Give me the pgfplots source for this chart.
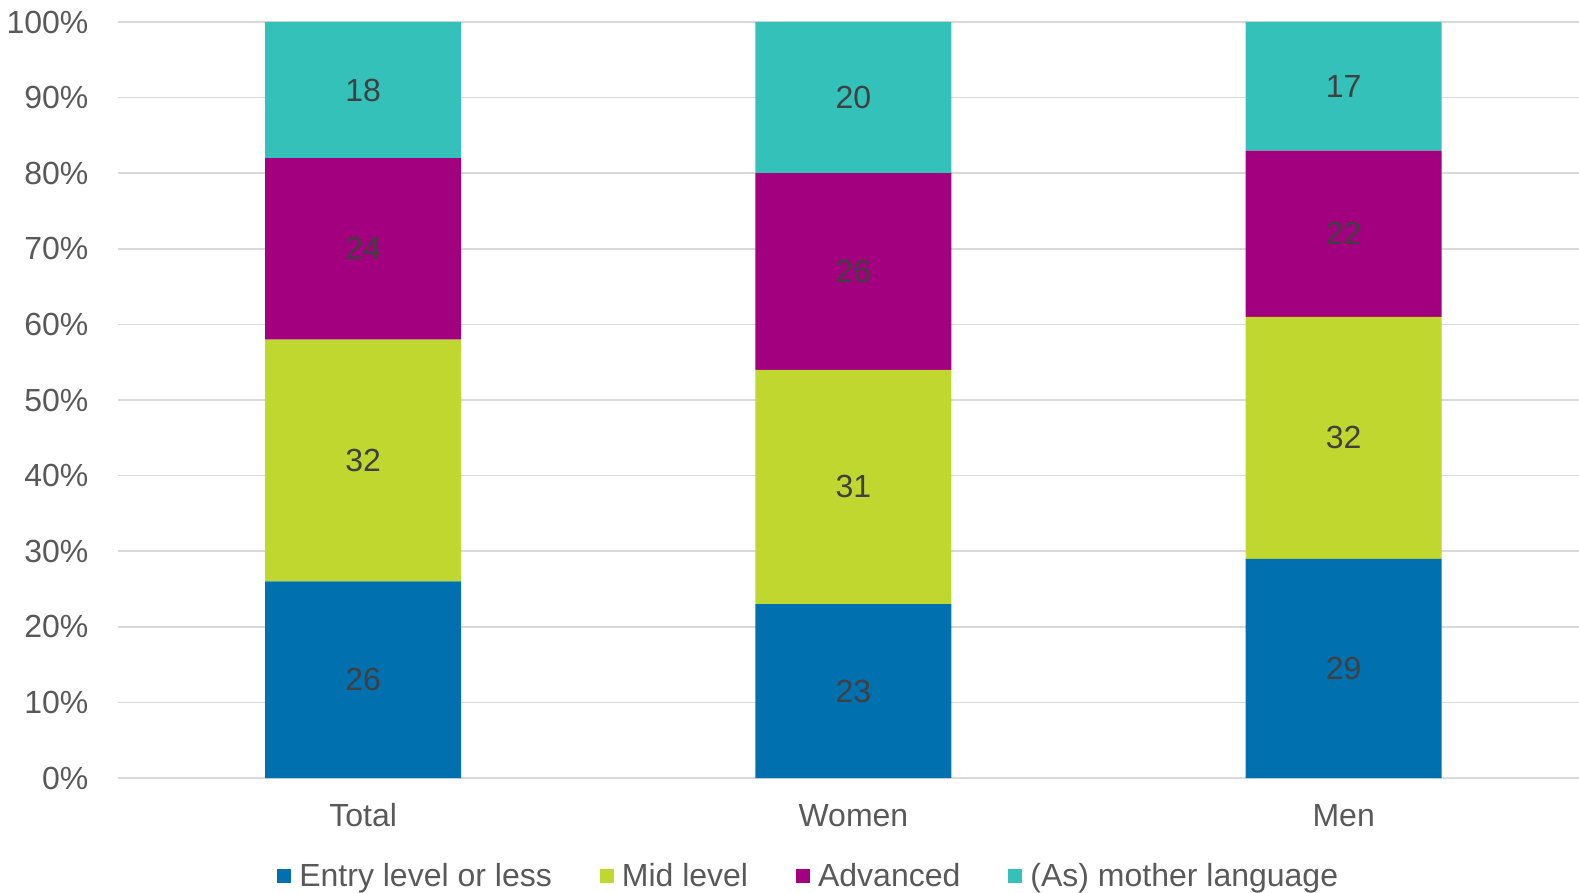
\documentclass[border=0pt]{standalone}
\usepackage{pgfplots}
\pgfplotsset{compat=1.18}
\usepackage{fontspec}
\setmainfont{Liberation Sans}
\definecolor{cBlue}{HTML}{0070AF}
\definecolor{cLime}{HTML}{C0D72F}
\definecolor{cPurple}{HTML}{A2007E}
\definecolor{cTeal}{HTML}{33C1B9}
\definecolor{gridgray}{HTML}{D9D9D9}
\definecolor{ticktext}{HTML}{595959}
\definecolor{labeltext}{HTML}{404040}
\pgfplotsset{
  legsq/.style={legend image code/.code={\fill[##1] (0pt,-5.25pt) rectangle (10.5pt,5.25pt);}},
}
\begin{document}
\begin{tikzpicture}[font=\fontsize{24}{28}\selectfont]
\begin{axis}[
  at={(0,0)}, anchor=south west,
  scale only axis, width=1095.75pt, height=567pt,
  ybar stacked, bar width=147pt,
  xmin=-0.5, xmax=2.48, ymin=0, ymax=100,
  xtick={0,1,2}, xticklabels={Total,Women,Men},
  ytick={0,10,...,100},
  /pgf/number format/assume math mode=true,
  yticklabel={\pgfmathprintnumber{\tick}\%},
  axis lines*=left, axis line style={draw=none},
  major tick length=0pt,
  ymajorgrids, xmajorgrids=false,
  grid style={gridgray, line width=1.3pt},
  yticklabel style={anchor=east, inner sep=0pt, xshift=-22pt, text=ticktext},
  xticklabel style={anchor=base, inner sep=0pt, yshift=-36.4pt, text=ticktext},
  visualization depends on=rawy\as\rawy,
  nodes near coords={\pgfmathprintnumber{\rawy}},
  every node near coord/.append style={anchor=center, text=labeltext},
  legend columns=4,
  legend style={draw=none, fill=none, at={(axis description cs:0.473,-0.1296)}, anchor=center,
    /tikz/every odd column/.append style={column sep=4pt},
    /tikz/every even column/.append style={column sep=34pt}, text=ticktext, inner sep=0pt},
]
\addplot[fill=cBlue, draw=none, legsq] coordinates {(0,26) (1,23) (2,29)};
\addlegendentry{Entry level or less}
\addplot[fill=cLime, draw=none, legsq] coordinates {(0,32) (1,31) (2,32)};
\addlegendentry{Mid level}
\addplot[fill=cPurple, draw=none, legsq] coordinates {(0,24) (1,26) (2,22)};
\addlegendentry{Advanced}
\addplot[fill=cTeal, draw=none, legsq] coordinates {(0,18) (1,20) (2,17)};
\addlegendentry{(As) mother language}
\end{axis}
\pgfresetboundingbox
\useasboundingbox (-88.5pt,-86.25pt) rectangle (1095.75pt,583.5pt);
\end{tikzpicture}
\end{document}
